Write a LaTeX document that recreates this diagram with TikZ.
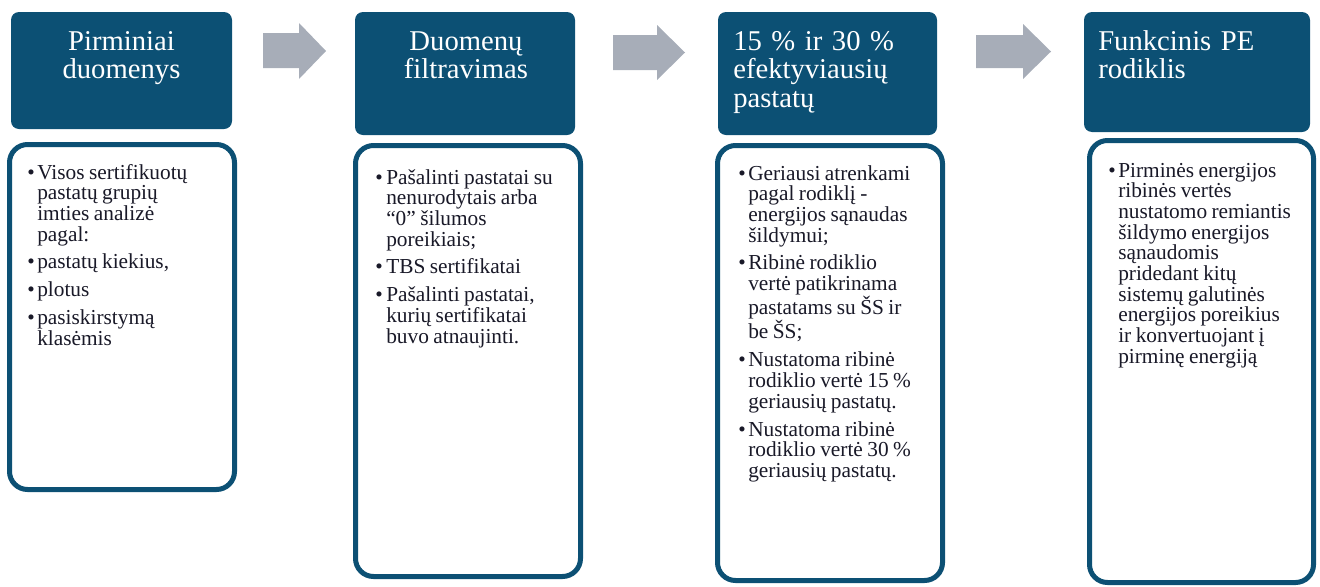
\documentclass[tikz,border=0pt]{standalone}
\usepackage{fontspec}
\setmainfont{Liberation Serif}
\usetikzlibrary{fit}
\definecolor{navy}{RGB}{12,80,116}
\definecolor{arrowgray}{RGB}{167,173,184}
\definecolor{ink}{RGB}{25,25,40}
\newlength{\bhang}
\newcommand{\bitem}[2][7.5pt]{\setlength{\bhang}{#1}\hangindent=\bhang\hangafter=1\noindent\makebox[\bhang][l]{\textbullet}#2\par}
\newcommand{\bodysize}{\fontsize{16pt}{15.5pt}\selectfont\setlength{\parskip}{5.4pt}\raggedright}
\begin{document}
\begin{tikzpicture}[x=0.75pt,y=-0.75pt,
  hdr/.style={fill=navy, rounded corners=6pt, inner sep=0pt},
  bodybox/.style={draw=navy, line width=3.75pt, rounded corners=13.5pt, inner sep=0pt, fill=white},
  hdrtext/.style={text=white, inner sep=0pt, font=\fontsize{21.5pt}{21.5pt}\selectfont, text width=160pt},
  bodytext/.style={text=ink, inner sep=0pt, text width=165pt, anchor=base west},
  blockarrow/.style={fill=arrowgray}]
\useasboundingbox (0,0) rectangle (1320,586);

% header boxes
\node[hdr, fit={(11,12) (232,129)}] (h1) {};
\node[hdr, fit={(355,12) (575,135)}] (h2) {};
\node[hdr, fit={(718,12) (937,135)}] (h3) {};
\node[hdr, fit={(1084,12) (1310,132)}] (h4) {};

% body boxes
\node[bodybox, fit={(9.5,144.5) (234.5,489.5)}] (b1) {};
\node[bodybox, fit={(355.5,145.5) (580.5,576.5)}] (b2) {};
\node[bodybox, fit={(717.5,145.5) (942.5,580.5)}] (b3) {};
\node[bodybox, fit={(1089.5,140.5) (1313.5,582.5)}] (b4) {};

% block arrows
\fill[blockarrow] (263,33) -- (299,33) -- (299,23) -- (326,51) -- (299,79) -- (299,68) -- (263,68) -- cycle;
\fill[blockarrow] (613,35) -- (657,35) -- (657,25) -- (685,52.5) -- (657,80) -- (657,70) -- (613,70) -- cycle;
\fill[blockarrow] (976,35) -- (1023,35) -- (1023,24) -- (1051,51.5) -- (1023,79) -- (1023,68) -- (976,68) -- cycle;

% header texts
\node[hdrtext, align=center, anchor=base] (h1t) at (121.5,50) {Pirminiai\\duomenys};
\node[hdrtext, align=center, anchor=base] (h2t) at (466,50) {Duomenų\\filtravimas};
\node[hdrtext, align=left, anchor=base west] (h3t) at (733,50) {15 \% ir 30 \%\\efektyviausių\\pastatų};
\node[hdrtext, align=left, anchor=base west] (h4t) at (1098,50) {Funkcinis PE\\rodiklis};

% body texts
\node[bodytext] (b1t) at (27,179) {\bodysize
\bitem[7.5pt]{Visos sertifikuotų\newline pastatų grupių\newline imties analizė\newline pagal:}
\bitem[7.5pt]{pastatų kiekius,}
\bitem[7.5pt]{plotus}
\bitem[7.5pt]{pasiskirstymą\newline klasėmis}};

\node[bodytext] (b2t) at (375,184) {\bodysize
\bitem[8.25pt]{Pašalinti pastatai su\newline nenurodytais arba\newline “0” šilumos\newline poreikiais;}
\bitem[8.25pt]{TBS sertifikatai}
\bitem[8.25pt]{Pašalinti pastatai,\newline kurių sertifikatai\newline buvo atnaujinti.}};

\node[bodytext] (b3t) at (738,180) {\bodysize
\bitem{Geriausi atrenkami\newline pagal rodiklį -\newline energijos sąnaudas\newline šildymui;}
\bitem{Ribinė rodiklio\newline vertė patikrinama\newline pastatams su ŠS ir\newline be ŠS;}
\bitem{Nustatoma ribinė\newline rodiklio vertė 15 \%\newline geriausių pastatų.}
\bitem{Nustatoma ribinė\newline rodiklio vertė 30 \%\newline geriausių pastatų.}};

\node[bodytext] (b4t) at (1108,177) {\bodysize
\bitem{Pirminės energijos\newline ribinės vertės\newline nustatomo remiantis\newline šildymo energijos\newline sąnaudomis\newline pridedant kitų\newline sistemų galutinės\newline energijos poreikius\newline ir konvertuojant į\newline pirminę energiją}};
\end{tikzpicture}
\end{document}
